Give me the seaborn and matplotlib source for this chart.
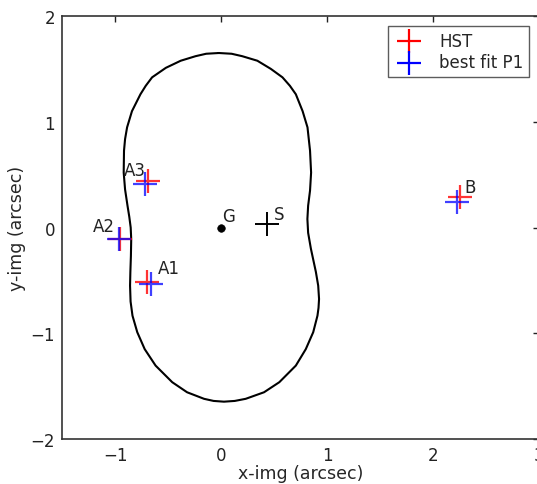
import numpy as np
import pandas as pd
import matplotlib
matplotlib.use("Agg")
import matplotlib.pyplot as plt
import seaborn as sns

# ---- data ----
img_names = ["A1", "A2", "A3", "B"]
hst_x = [-0.697, -0.955, -0.687, 2.25]
hst_y = [-0.512, -0.105, 0.442, 0.285]
fit_x = [-0.664, -0.964, -0.718, 2.23]
fit_y = [-0.534, -0.112, 0.411, 0.24]

galaxy_x = [0.0]
galaxy_y = [0.0]
source_x = [0.438]
source_y = [0.033]

label_text = ["A1", "A2", "A3", "B", "G", "S"]
label_x = [-0.60, -1.21, -0.915, 2.30, 0.012, 0.50]
label_y = [-0.433, -0.03, 0.497, 0.335, 0.059, 0.08]

# critical curve, traced clockwise from the top
crit_x = [-0.02, 0.10, 0.20, 0.343, 0.47, 0.58, 0.65, 0.706, 0.77, 0.816,
          0.84, 0.85, 0.84, 0.822, 0.815, 0.822, 0.848, 0.895, 0.917, 0.925,
          0.92, 0.91, 0.87, 0.80, 0.706, 0.55, 0.406, 0.233, 0.13, 0.028,
          -0.07, -0.16, -0.32, -0.46, -0.617, -0.72, -0.79, -0.835, -0.853, -0.858,
          -0.855, -0.85, -0.847, -0.852, -0.865, -0.882, -0.905, -0.918, -0.915, -0.905,
          -0.886, -0.84, -0.76, -0.71, -0.65, -0.52, -0.38, -0.24, -0.14, -0.02]
crit_y = [1.65, 1.643, 1.62, 1.577, 1.50, 1.42, 1.34, 1.26, 1.10, 0.947,
          0.726, 0.52, 0.35, 0.206, 0.08, -0.05, -0.2, -0.42, -0.55, -0.676,
          -0.76, -0.834, -0.99, -1.15, -1.306, -1.463, -1.558, -1.62, -1.64, -1.647,
          -1.64, -1.62, -1.558, -1.463, -1.306, -1.15, -0.99, -0.834, -0.70, -0.55,
          -0.42, -0.27, -0.11, 0.0, 0.1, 0.206, 0.36, 0.52, 0.726, 0.836,
          0.947, 1.10, 1.26, 1.34, 1.42, 1.51, 1.577, 1.62, 1.643, 1.65]

x_ticks = [-1, 0, 1, 2, 3]
y_ticks = [-2, -1, 0, 1, 2]

# ---- style ----
sns.set_style("white")
plt.rcParams.update({
    "font.family": ["DejaVu Sans"],
    "xtick.direction": "in", "ytick.direction": "in",
    "xtick.top": True, "ytick.right": True,
    "xtick.major.size": 4, "ytick.major.size": 4,
    "xtick.major.width": 1.0, "ytick.major.width": 1.0,
    "xtick.color": "#222222", "ytick.color": "#222222",
    "axes.edgecolor": "#333333", "axes.linewidth": 1.2,
    "lines.solid_joinstyle": "round",
})

fig = plt.figure(figsize=(5.37, 4.85), dpi=100)
ax = fig.add_axes([62 / 537, 45 / 485, (539 - 62) / 537, (440 - 17) / 485])

crit = pd.DataFrame({"x": crit_x, "y": crit_y})
sns.lineplot(data=crit, x="x", y="y", sort=False, estimator=None,
             color="black", linewidth=1.5, ax=ax)

hst = pd.DataFrame({"x": hst_x, "y": hst_y, "name": img_names})
fit = pd.DataFrame({"x": fit_x, "y": fit_y, "name": img_names})
sns.scatterplot(data=hst, x="x", y="y", marker="+", s=300, linewidth=1.6,
                color="red", alpha=0.8, label="HST", ax=ax, zorder=3)
sns.scatterplot(data=fit, x="x", y="y", marker="+", s=300, linewidth=1.6,
                color="blue", alpha=0.75, label="best fit P1", ax=ax, zorder=4)
sns.scatterplot(x=source_x, y=source_y, marker="+", s=300, linewidth=1.4,
                color="black", ax=ax, zorder=3)
sns.scatterplot(x=galaxy_x, y=galaxy_y, marker="o", s=30, color="black",
                edgecolor="black", ax=ax, zorder=3)

for t, lx, ly in zip(label_text, label_x, label_y):
    ax.text(lx, ly, t, fontsize=12, color="#222222", ha="left", va="baseline")

ax.set_xlim(-1.5, 3)
ax.set_ylim(-2, 2)
ax.set_xticks(x_ticks)
ax.set_yticks(y_ticks)
ax.tick_params(labelsize=12, pad=5)
ax.set_xlabel("x-img (arcsec)", fontsize=12.5, labelpad=0)
ax.set_ylabel("y-img (arcsec)", fontsize=12.5, labelpad=3)

leg = ax.legend(loc="upper right", fontsize=12, frameon=True, fancybox=False,
                borderaxespad=0.6, handletextpad=0.9, borderpad=0.35,
                labelspacing=0.2, handlelength=1.8)
leg.get_frame().set_edgecolor("#333333")
leg.get_frame().set_linewidth(1.0)
for h in leg.legend_handles:
    h.set_alpha(1.0)

fig.savefig("out.png", dpi=100)
